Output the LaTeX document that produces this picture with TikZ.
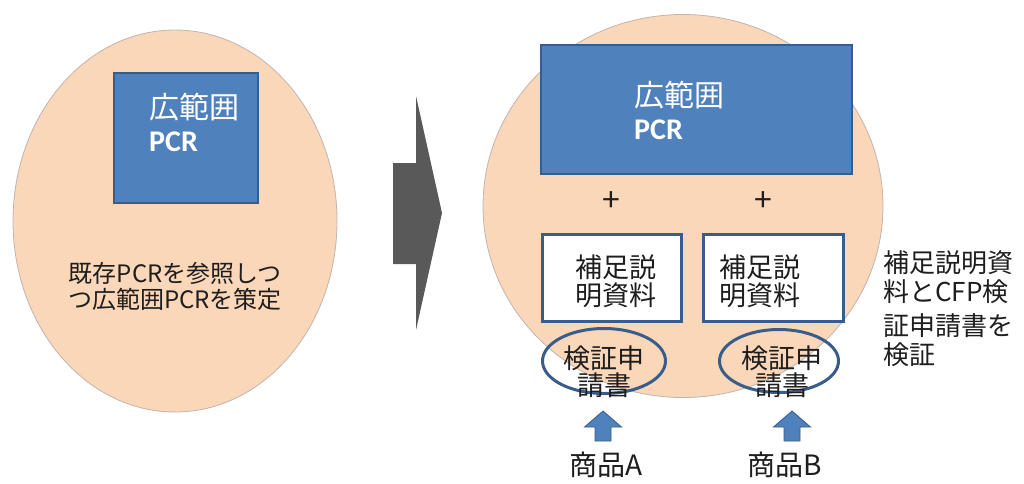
\documentclass[tikz,border=0pt]{standalone}
\usepackage{fontspec}
\setmainfont{Noto Sans CJK JP}
\newfontfamily\pcrfont{Carlito}
\usetikzlibrary{shapes.geometric}
\definecolor{peach}{HTML}{FBD7B9}
\definecolor{peachedge}{HTML}{C2B3AD}
\definecolor{ofblue}{HTML}{4F81BD}
\definecolor{ofdark}{HTML}{385D8A}
\definecolor{arrgray}{HTML}{595959}
\definecolor{txt}{HTML}{1E1E1E}
\begin{document}
\begin{tikzpicture}[x=1pt,y=-1pt,
  bigoval/.style={ellipse, draw=peachedge, line width=0.8pt, fill=peach, inner sep=0},
  pcrbox/.style={rectangle, draw=ofdark, line width=2pt, fill=ofblue, inner sep=0},
  suppbox/.style={rectangle, draw=ofdark, line width=3pt, fill=white, inner sep=0},
  appoval/.style={ellipse, draw=ofdark, line width=3pt, inner sep=0},
  jtxt/.style={inner sep=0, text=txt, align=center},
  wjp/.style={inner sep=0, text=white, anchor=base west, font=\fontsize{30}{30}\selectfont},
  wpcr/.style={inner sep=0, text=white, anchor=base west, font=\pcrfont\bfseries\fontsize{30}{30}\selectfont},
  blockup/.style={draw=ofdark, fill=ofblue, line width=0.8pt, line join=miter},
]
\useasboundingbox (0,0) rectangle (1024,483);
% left stage
\node[bigoval, minimum width=324, minimum height=382] (oldcirc) at (175,221) {};
\node[pcrbox, minimum width=144, minimum height=130] (oldpcr) at (186,138) {};
\node[wjp] (oldpcrj) at (149,118.4) {広範囲};
\node[wpcr] (oldpcre) at (149,151) {PCR};
\node[jtxt, font=\fontsize{24}{26}\selectfont] (oldtext) at (175,286) {既存PCRを参照しつ\\つ広範囲PCRを策定};
% big transition arrow
\fill[arrgray] (393,163) -- (416,163) -- (416,96) -- (442,213) -- (416,330) -- (416,264) -- (393,264) -- cycle;
% right stage
\node[bigoval, minimum width=400, minimum height=383] (newcirc) at (683,206) {};
\node[pcrbox, minimum width=311, minimum height=129] (newpcr) at (696.5,109.5) {};
\node[wjp] (newpcrj) at (634,106.4) {広範囲};
\node[wpcr] (newpcre) at (634,139) {PCR};
\node[jtxt, font=\fontsize{32}{32}\selectfont] (plusa) at (611,202) {+};
\node[jtxt, font=\fontsize{32}{32}\selectfont] (plusb) at (763,202) {+};
\node[suppbox, minimum width=139, minimum height=87] (suppa) at (612,278) {};
\node[suppbox, minimum width=140, minimum height=87] (suppb) at (773.5,278) {};
\node[jtxt, font=\fontsize{27}{28}\selectfont] (suppatext) at (616,281) {補足説\\明資料};
\node[jtxt, font=\fontsize{27}{28}\selectfont] (suppbtext) at (760,281) {補足説\\明資料};
\node[appoval, minimum width=123, minimum height=65] (appa) at (604,361) {};
\node[appoval, minimum width=119, minimum height=63] (appb) at (779,361) {};
\node[jtxt, font=\fontsize{27}{27}\selectfont] (appatext) at (604,371.5) {検証申\\請書};
\node[jtxt, font=\fontsize{27}{27}\selectfont] (appbtext) at (782,371.5) {検証申\\請書};
% product arrows
\draw[blockup] (595,441) -- (595,427) -- (584.5,427) -- (603,411) -- (621.5,427) -- (611,427) -- (611,441) -- cycle;
\draw[blockup] (784,441) -- (784,427) -- (773.5,427) -- (792,411) -- (810.5,427) -- (800,427) -- (800,441) -- cycle;
\node[jtxt, font=\fontsize{28}{28}\selectfont] (proda) at (606,465) {商品A};
\node[jtxt, font=\fontsize{28}{28}\selectfont] (prodb) at (785,465) {商品B};
% side note
\node[jtxt, align=left, anchor=west, font=\fontsize{26}{29}\selectfont] (verify) at (883,308.5) {補足説明資\\料とCFP検\\[5pt]証申請書を\\検証};
\end{tikzpicture}
\end{document}
